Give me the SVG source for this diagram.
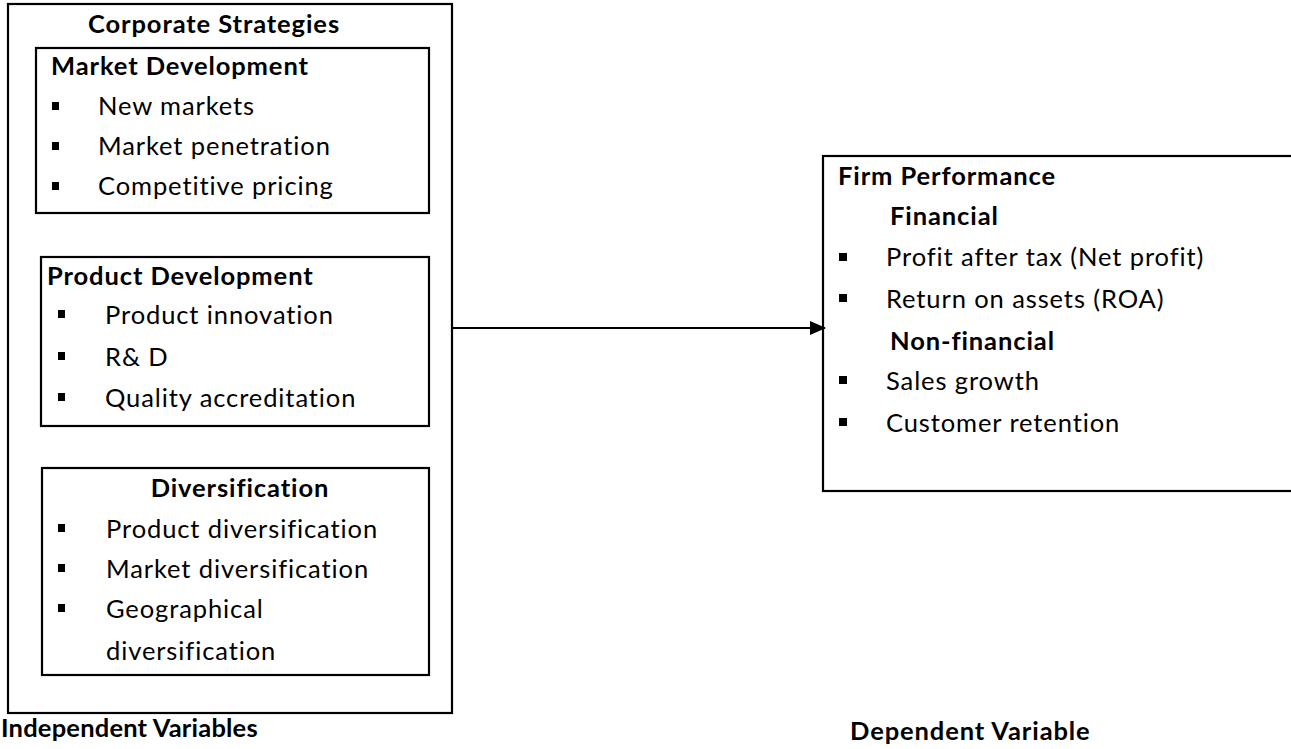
<svg xmlns="http://www.w3.org/2000/svg" width="1291" height="749" viewBox="0 0 1291 749">
<defs>
<style>
text{font-family:Lato,"Liberation Sans",sans-serif;font-size:25.5px;letter-spacing:0.9px;font-variant-ligatures:none;fill:#000}
.b{font-weight:bold}
.box{fill:none;stroke:#000;stroke-width:2.2}
.bul{fill:#000}
.conn{stroke:#000;stroke-width:2.2;fill:none}
</style>
<marker id="ah" markerWidth="16" markerHeight="14" refX="15" refY="7" orient="auto" markerUnits="userSpaceOnUse">
<path d="M0,0 L16,7 L0,14 Z" fill="#000"/>
</marker>
</defs>
<rect width="1291" height="749" fill="#fff"/>
<g id="corporate-strategies">
<rect class="box" x="8" y="4" width="444" height="709"/>
<text class="b" x="214" y="33" text-anchor="middle">Corporate Strategies</text>
</g>
<g id="market-development">
<rect class="box" x="36" y="48" width="393" height="165"/>
<text class="b" x="51" y="75">Market Development</text>
<rect class="bul" x="52" y="102" width="7" height="8"/>
<text x="98" y="115">New markets</text>
<rect class="bul" x="52" y="142" width="7" height="8"/>
<text x="98" y="155">Market penetration</text>
<rect class="bul" x="52" y="182" width="7" height="8"/>
<text x="98" y="195">Competitive pricing</text>
</g>
<g id="product-development">
<rect class="box" x="41" y="257" width="388" height="169"/>
<text class="b" x="47" y="285">Product Development</text>
<rect class="bul" x="58" y="310" width="7" height="8"/>
<text x="105" y="324">Product innovation</text>
<rect class="bul" x="58" y="352" width="7" height="8"/>
<text x="105" y="366">R&amp; D</text>
<rect class="bul" x="58" y="393" width="7" height="8"/>
<text x="105" y="407">Quality accreditation</text>
</g>
<g id="diversification">
<rect class="box" x="42" y="468" width="387" height="207"/>
<text class="b" x="240" y="497" text-anchor="middle">Diversification</text>
<rect class="bul" x="58" y="524" width="7" height="8"/>
<text x="106" y="538">Product diversification</text>
<rect class="bul" x="58" y="564" width="7" height="8"/>
<text x="106" y="578">Market diversification</text>
<rect class="bul" x="58" y="604" width="7" height="8"/>
<text x="106" y="618">Geographical</text>
<text x="106" y="660">diversification</text>
</g>
<g id="firm-performance">
<rect class="box" x="823" y="156" width="520" height="335"/>
<text class="b" x="838" y="185">Firm Performance</text>
<text class="b" x="890" y="225">Financial</text>
<rect class="bul" x="839" y="253" width="8" height="8"/>
<text x="886" y="266">Profit after tax (Net profit)</text>
<rect class="bul" x="839" y="294" width="8" height="8"/>
<text x="886" y="308">Return on assets (ROA)</text>
<text class="b" x="890" y="350">Non-financial</text>
<rect class="bul" x="839" y="376" width="8" height="8"/>
<text x="886" y="390">Sales growth</text>
<rect class="bul" x="839" y="418" width="8" height="8"/>
<text x="886" y="432">Customer retention</text>
</g>
<g id="labels">
<text class="b" x="1" y="737" style="letter-spacing:0.2px">Independent Variables</text>
<text class="b" x="850" y="740">Dependent Variable</text>
</g>
<g id="connectors">
<line class="conn" x1="451" y1="328" x2="825" y2="328" marker-end="url(#ah)"/>
</g>
</svg>
